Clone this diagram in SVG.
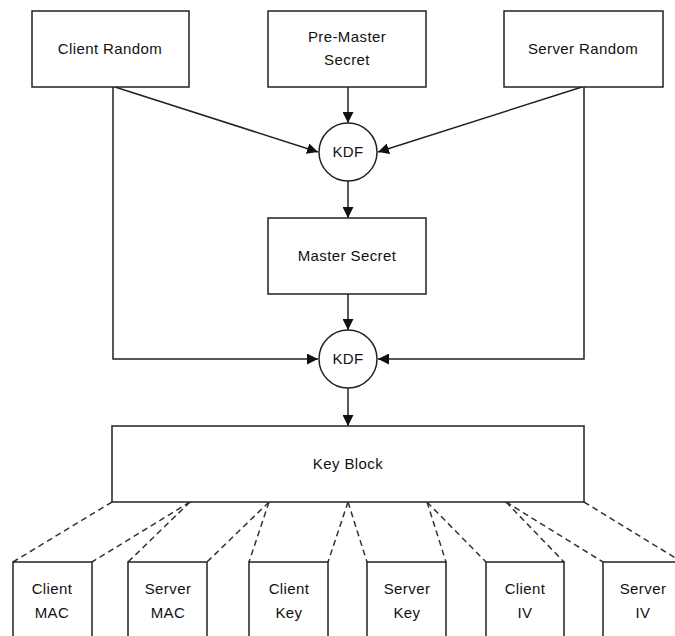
<svg xmlns="http://www.w3.org/2000/svg" width="675" height="636" viewBox="0 0 675 636">
<style>
.box{fill:#fff;stroke:#222;stroke-width:1.5}
.t{font-family:"Liberation Sans",Arial,sans-serif;font-size:15px;fill:#111;text-anchor:middle;letter-spacing:0.4px}
.c{fill:none;stroke:#222;stroke-width:1.5}
.d{fill:none;stroke:#333;stroke-width:1.5;stroke-dasharray:6 4}
</style>
<defs>
<marker id="ah" markerUnits="userSpaceOnUse" markerWidth="11" markerHeight="11" refX="10" refY="5" orient="auto" viewBox="0 0 10 10">
<path d="M0,0 L10,5 L0,10 z" fill="#111"/>
</marker>
</defs>
<rect width="675" height="636" fill="#fff"/>
<g id="connectors">
<line class="c" x1="348" y1="87" x2="348" y2="123" marker-end="url(#ah)"/>
<line class="c" x1="115" y1="87" x2="318" y2="152" marker-end="url(#ah)"/>
<line class="c" x1="582" y1="87" x2="378" y2="152" marker-end="url(#ah)"/>
<line class="c" x1="348" y1="181" x2="348" y2="218" marker-end="url(#ah)"/>
<line class="c" x1="348" y1="294" x2="348" y2="330" marker-end="url(#ah)"/>
<polyline class="c" points="113,87 113,359 318,359" marker-end="url(#ah)"/>
<polyline class="c" points="584,87 584,359 378,359" marker-end="url(#ah)"/>
<line class="c" x1="348" y1="388" x2="348" y2="426" marker-end="url(#ah)"/>
<line class="d" x1="112" y1="502" x2="13" y2="562"/>
<line class="d" x1="190" y1="502" x2="92" y2="562"/>
<line class="d" x1="190" y1="502" x2="128" y2="562"/>
<line class="d" x1="269" y1="502" x2="207" y2="562"/>
<line class="d" x1="269" y1="502" x2="249" y2="562"/>
<line class="d" x1="348" y1="502" x2="328" y2="562"/>
<line class="d" x1="348" y1="502" x2="367" y2="562"/>
<line class="d" x1="427" y1="502" x2="446" y2="562"/>
<line class="d" x1="427" y1="502" x2="486" y2="562"/>
<line class="d" x1="506" y1="502" x2="564" y2="562"/>
<line class="d" x1="506" y1="502" x2="603" y2="562"/>
<line class="d" x1="584" y1="502" x2="682" y2="562"/>
</g>
<g id="client-random"><rect class="box" x="32" y="11" width="157" height="76"/><text class="t" x="110" y="54">Client Random</text></g>
<g id="pre-master-secret"><rect class="box" x="268" y="11" width="158" height="76"/><text class="t" x="347" y="42">Pre-Master</text><text class="t" x="347" y="65">Secret</text></g>
<g id="server-random"><rect class="box" x="504" y="11" width="159" height="76"/><text class="t" x="583" y="54">Server Random</text></g>
<g id="kdf1"><circle class="box" cx="348" cy="152" r="29"/><text class="t" x="348" y="157">KDF</text></g>
<g id="master-secret"><rect class="box" x="268" y="218" width="158" height="76"/><text class="t" x="347" y="261">Master Secret</text></g>
<g id="kdf2"><circle class="box" cx="348" cy="359" r="29"/><text class="t" x="348" y="364">KDF</text></g>
<g id="key-block"><rect class="box" x="112" y="426" width="472" height="76"/><text class="t" x="348" y="469">Key Block</text></g>
<g id="client-mac"><rect class="box" x="13" y="562" width="79" height="90"/><text class="t" x="52" y="594">Client</text><text class="t" x="52" y="618">MAC</text></g>
<g id="server-mac"><rect class="box" x="128" y="562" width="79" height="90"/><text class="t" x="168" y="594">Server</text><text class="t" x="168" y="618">MAC</text></g>
<g id="client-key"><rect class="box" x="249" y="562" width="79" height="90"/><text class="t" x="289" y="594">Client</text><text class="t" x="289" y="618">Key</text></g>
<g id="server-key"><rect class="box" x="367" y="562" width="79" height="90"/><text class="t" x="407" y="594">Server</text><text class="t" x="407" y="618">Key</text></g>
<g id="client-iv"><rect class="box" x="486" y="562" width="78" height="90"/><text class="t" x="525" y="594">Client</text><text class="t" x="525" y="618">IV</text></g>
<g id="server-iv"><rect class="box" x="603" y="562" width="79" height="90"/><text class="t" x="643" y="594">Server</text><text class="t" x="643" y="618">IV</text></g>
</svg>
